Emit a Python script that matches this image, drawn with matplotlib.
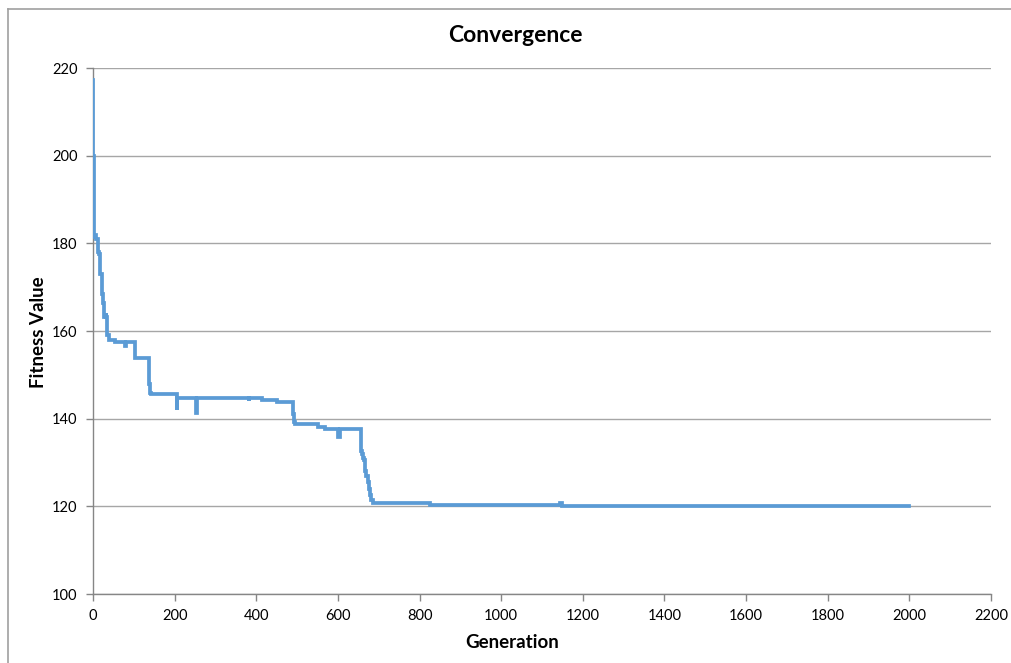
import matplotlib
matplotlib.use("Agg")
import matplotlib.pyplot as plt
from matplotlib.lines import Line2D

# Best fitness per generation (change points; value held until the next entry)
generation = [0, 1, 2, 3, 6, 8, 12, 15, 18, 22, 24, 28, 31, 32, 35, 40, 54,
              78, 80, 103, 136, 137, 138, 139, 140, 141, 205, 206, 252, 254,
              381, 383, 413, 450, 491, 493, 495, 552, 569, 601, 604, 656, 658,
              661, 665, 667, 670, 673, 676, 679, 682, 685, 826, 1145, 1148, 2000]
fitness = [217.2, 200.0, 188.0, 181.5, 182.0, 181.0, 178.1, 177.6, 173.0, 168.5,
           166.5, 163.3, 164.0, 163.2, 159.1, 157.9, 157.4,
           156.6, 157.4, 153.8, 151.5, 149.5, 148.0, 146.5, 145.8, 145.6, 142.0,
           144.7, 141.3, 144.7,
           144.0, 144.7, 144.2, 143.7, 141.0, 139.2, 138.8, 138.2, 137.6, 135.9,
           137.6, 132.6, 132.0,
           131.0, 130.5, 128.0, 127.0, 125.5, 124.0, 122.5, 121.5, 120.8, 120.3,
           120.8, 120.05, 120.05]

x_ticks = list(range(0, 2201, 200))
y_ticks = list(range(100, 221, 20))

plt.rcParams['font.family'] = ['Lato', 'DejaVu Sans']

W, H = 1011, 663
fig = plt.figure(figsize=(W / 100, H / 100), dpi=100)
ax = fig.add_axes([93 / W, 69 / H, (991 - 93) / W, (594 - 68) / H])

ax.plot(generation, fitness, drawstyle='steps-post', color='#5B9BD5',
        linewidth=2.7, solid_joinstyle='miter', zorder=3)

ax.set_xlim(0, 2200)
ax.set_ylim(100, 220)
ax.set_xticks(x_ticks)
ax.set_yticks(y_ticks)
ax.tick_params(axis='both', direction='out', length=5, width=1,
               color='#868686', labelsize=10.5, labelcolor='#000000', pad=6)
ax.yaxis.grid(True, color='#A6A6A6', linewidth=1)
ax.set_axisbelow(True)
for side in ('top', 'right'):
    ax.spines[side].set_visible(False)
for side in ('left', 'bottom'):
    ax.spines[side].set_color('#868686')
    ax.spines[side].set_linewidth(1)

# Title and axis titles are centred on the chart area
fig.text(515 / W, 1 - 36 / H, 'Convergence', fontsize=16.5, fontweight='bold',
         ha='center', va='center')
fig.text(512 / W, 1 - 642 / H, 'Generation', fontsize=13.5, fontweight='bold',
         ha='center', va='center')
fig.text(38 / W, 1 - 332 / H, 'Fitness Value', fontsize=13.5, fontweight='bold',
         ha='center', va='center', rotation=90)

# Chart frame
fig.add_artist(Line2D([7.5 / W, 1], [1 - 8.5 / H, 1 - 8.5 / H],
                      transform=fig.transFigure, color='#A0A0A0', linewidth=1.2))
fig.add_artist(Line2D([7.5 / W, 7.5 / W], [0, 1 - 8.5 / H],
                      transform=fig.transFigure, color='#A0A0A0', linewidth=1.2))

fig.savefig('out.png', dpi=100)
